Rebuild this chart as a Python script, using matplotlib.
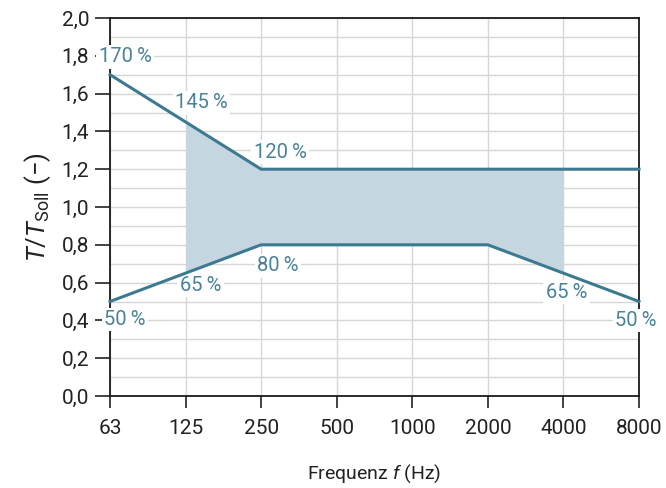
import matplotlib.pyplot as plt
from matplotlib.ticker import MultipleLocator, FuncFormatter

plt.rcParams['font.family'] = ['Roboto', 'DejaVu Sans']
plt.rcParams['mathtext.fontset'] = 'custom'
plt.rcParams['mathtext.it'] = 'Roboto:italic'
plt.rcParams['mathtext.rm'] = 'Roboto'

freqs = ['63', '125', '250', '500', '1000', '2000', '4000', '8000']
upper = [1.7, 1.45, 1.2, 1.2, 1.2, 1.2, 1.2, 1.2]
lower = [0.5, 0.65, 0.8, 0.8, 0.8, 0.8, 0.65, 0.5]
band_start, band_end = 1, 6

# labels: (index, value, text, dx px, dy px)
labels = [
    (0, 1.7, '170\u2009%', 15, 18),
    (1, 1.45, '145\u2009%', 16, 19),
    (2, 1.2, '120\u2009%', 19, 17),
    (0, 0.5, '50\u2009%', 15, -18),
    (1, 0.65, '65\u2009%', 15, -12),
    (2, 0.8, '80\u2009%', 17, -21),
    (6, 0.65, '65\u2009%', 3, -19),
    (7, 0.5, '50\u2009%', -3, -19),
]

line_col = '#3d7a91'
text_col = '#4a8299'
fill_col = '#c5d6e1'
grid_col = '#d6d6d6'

fig = plt.figure(figsize=(6.66, 4.88), dpi=100)
ax = fig.add_axes([110 / 666, 1 - 396 / 488, 529 / 666, 378 / 488])

x = list(range(len(freqs)))
ax.fill_between(x[band_start:band_end + 1], lower[band_start:band_end + 1],
                upper[band_start:band_end + 1], color=fill_col, lw=0, zorder=2)
ax.plot(x, upper, color=line_col, lw=2.2, zorder=3, clip_on=False)
ax.plot(x, lower, color=line_col, lw=2.2, zorder=3, clip_on=False)

# labels sit above grid, ticks and spines but below the band and the lines
for i, v, t, dx, dy in labels:
    ax.annotate(t, (i, v), xytext=(dx, dy), textcoords='offset pixels',
                ha='center', va='center', color=text_col, fontsize=14.5,
                bbox=dict(boxstyle='square,pad=0.12', fc='white', ec='none'),
                zorder=1.5, annotation_clip=False)

ax.set_xlim(0, len(freqs) - 1)
ax.set_ylim(0, 2.0)
ax.set_xticks(x)
ax.set_xticklabels(freqs)
ax.yaxis.set_major_locator(MultipleLocator(0.2))
ax.yaxis.set_minor_locator(MultipleLocator(0.1))
ax.yaxis.set_major_formatter(FuncFormatter(lambda v, p: f'{v:.1f}'.replace('.', ',')))

ax.grid(True, which='both', color=grid_col, lw=1, zorder=0)
ax.set_axisbelow(True)
ax.tick_params(axis='y', which='major', length=11, width=1.2, labelsize=15,
               colors='#222222', pad=4)
ax.tick_params(axis='y', which='minor', length=0)
ax.tick_params(axis='x', length=8.5, width=1.2, labelsize=15,
               colors='#222222', pad=8)
for s in ax.spines.values():
    s.set_color('#1a1a1a')
    s.set_linewidth(1.3)
    s.set_zorder(1.4)

ax.set_xlabel('Frequenz $\\it{f}$ (Hz)', fontsize=14, color='#222222', labelpad=18)
ax.set_ylabel('$\\it{T}/\\it{T}_{\\rm Soll}$ (\u2212)', fontsize=18.5, color='#222222',
              labelpad=6)

fig.savefig('out.png', dpi=100)
